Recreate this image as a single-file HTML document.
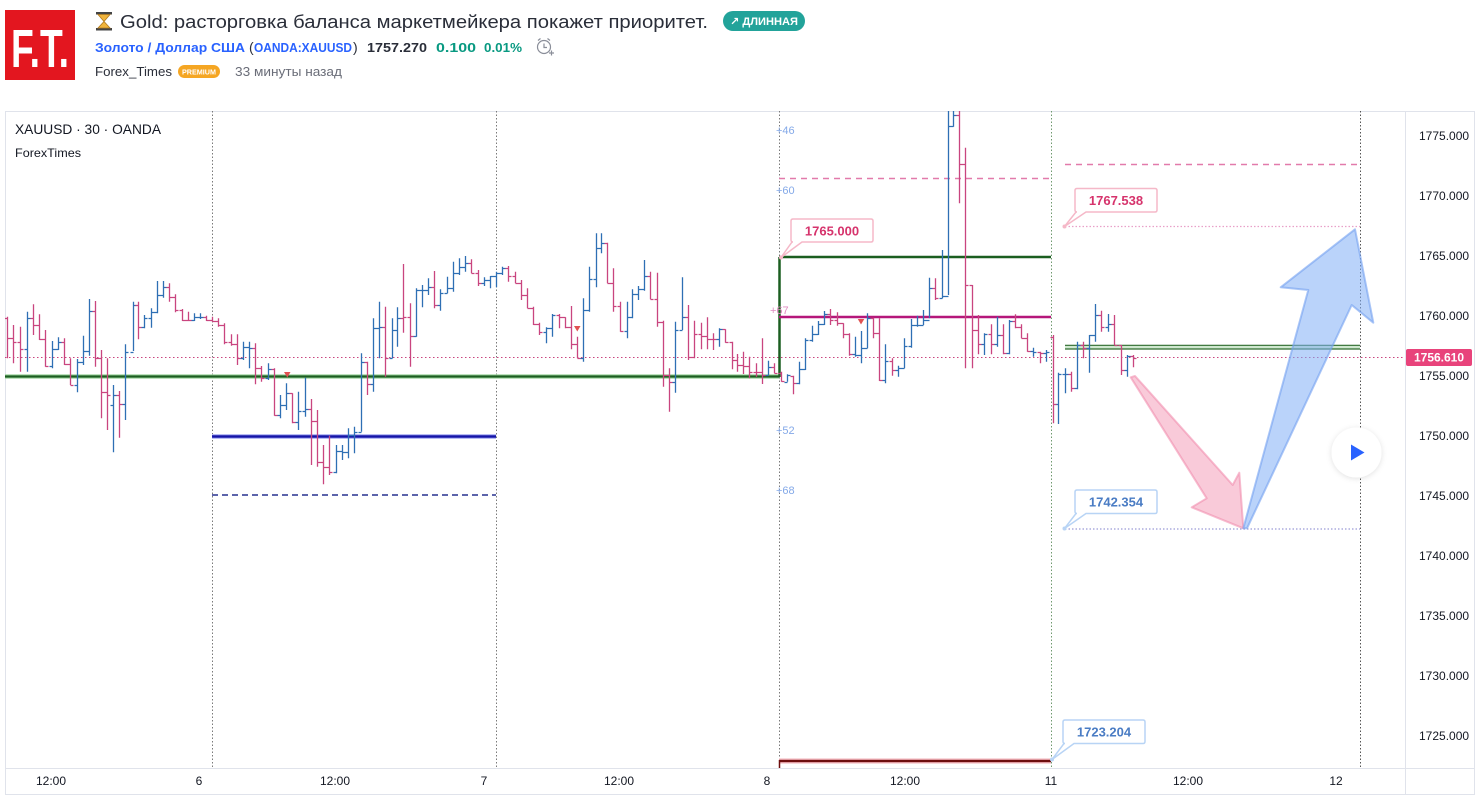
<!DOCTYPE html>
<html><head><meta charset="utf-8">
<style>
html,body{margin:0;padding:0;background:#fff;width:1480px;height:803px;overflow:hidden}
svg{display:block}
text{font-family:"Liberation Sans","DejaVu Sans",sans-serif}
</style></head>
<body>
<svg id="s" width="1480" height="803" viewBox="0 0 1480 803" xmlns="http://www.w3.org/2000/svg">
<defs>
<clipPath id="cp"><rect x="5" y="111" width="1400" height="657"/></clipPath>
<filter id="sh" x="-50%" y="-50%" width="200%" height="200%"><feDropShadow dx="0" dy="1" stdDeviation="3" flood-color="#000" flood-opacity="0.12"/></filter>
</defs>
<!-- header -->
<rect x="5" y="10" width="70" height="70" fill="#e3161f"/>
<text x="40" y="67" text-anchor="middle" fill="#fff" font-size="54" font-weight="bold" textLength="58" lengthAdjust="spacingAndGlyphs">F.T.</text>
<g>
<rect x="96" y="12" width="16" height="2.5" fill="#444"/>
<rect x="96" y="28" width="16" height="2.5" fill="#444"/>
<path d="M98 14.5 H110 L104 21.5 Z" fill="#f0b43c" stroke="#b07a20" stroke-width="0.8"/>
<path d="M98 28 H110 L104 21.5 Z" fill="#f0b43c" stroke="#b07a20" stroke-width="0.8"/>
</g>
<text x="120" y="28" font-size="18" fill="#2a2e39" textLength="588" lengthAdjust="spacingAndGlyphs">Gold: расторговка баланса маркетмейкера покажет приоритет.</text>
<rect x="723" y="11" width="82" height="20" rx="10" fill="#22a39a"/>
<text x="764" y="25" text-anchor="middle" font-size="11" font-weight="bold" fill="#fff" textLength="68" lengthAdjust="spacingAndGlyphs">↗ ДЛИННАЯ</text>
<text x="95" y="52" font-size="13" font-weight="bold" fill="#2962ff" textLength="150" lengthAdjust="spacingAndGlyphs">Золото / Доллар США</text>
<text x="249" y="52" font-size="14" fill="#2a2e39">(</text>
<text x="254" y="52" font-size="13" font-weight="bold" fill="#2962ff" textLength="98" lengthAdjust="spacingAndGlyphs">OANDA:XAUUSD</text>
<text x="353" y="52" font-size="14" fill="#2a2e39">)</text>
<text x="367" y="52" font-size="13" font-weight="bold" fill="#2a2e39" textLength="60" lengthAdjust="spacingAndGlyphs">1757.270</text>
<text x="436" y="52" font-size="13" font-weight="bold" fill="#089981" textLength="40" lengthAdjust="spacingAndGlyphs">0.100</text>
<text x="484" y="52" font-size="13" font-weight="bold" fill="#089981" textLength="38" lengthAdjust="spacingAndGlyphs">0.01%</text>
<g fill="none" stroke="#8a8e99" stroke-width="1.2">
<circle cx="544" cy="47" r="6.5"/><path d="M544 43.5V47.5H547M538 40.5l2.5-2M550 40.5l-2.5-2M549 53h5M551.5 50.5v5"/>
</g>
<text x="95" y="76" font-size="13" fill="#2a2e39" textLength="77" lengthAdjust="spacingAndGlyphs">Forex_Times</text>
<rect x="178" y="65" width="42" height="13" rx="6.5" fill="#f5a623"/>
<text x="199" y="74.5" text-anchor="middle" font-size="7" font-weight="bold" fill="#fff" textLength="34" lengthAdjust="spacingAndGlyphs">PREMIUM</text>
<text x="235" y="76" font-size="13" fill="#6a6d78" textLength="107" lengthAdjust="spacingAndGlyphs">33 минуты назад</text>

<!-- chart frame -->
<rect x="5.5" y="111.5" width="1469" height="683" fill="#fff" stroke="#e0e3eb"/>
<line x1="1405.5" y1="111" x2="1405.5" y2="795" stroke="#e0e3eb"/>
<line x1="5" y1="768.5" x2="1475" y2="768.5" stroke="#e0e3eb"/>

<g clip-path="url(#cp)" id="plot">
<!-- vertical dotted -->
<g stroke-width="1" stroke-dasharray="1.5 2">
<line x1="212.5" y1="111" x2="212.5" y2="768" stroke="#7a7a7a"/>
<line x1="496.5" y1="111" x2="496.5" y2="768" stroke="#7a7a7a"/>
<line x1="779.5" y1="111" x2="779.5" y2="768" stroke="#7a7a7a"/>
<line x1="1051.5" y1="111" x2="1051.5" y2="768" stroke="#6f9a6f"/>
<line x1="1360.5" y1="111" x2="1360.5" y2="768" stroke="#555"/>
</g>
<!-- current price dotted -->
<line x1="5" y1="357.5" x2="1405" y2="357.5" stroke="#c9457f" stroke-width="1" stroke-dasharray="1.5 2.5"/>
<!-- green level left -->
<line x1="5" y1="376.5" x2="779" y2="376.5" stroke="#a8d8a8" stroke-width="4.5"/>
<line x1="5" y1="376.5" x2="779" y2="376.5" stroke="#1b5e20" stroke-width="2.2"/>
<!-- blue level -->
<line x1="212" y1="436.5" x2="496" y2="436.5" stroke="#b8bcf5" stroke-width="5"/>
<line x1="212" y1="436.5" x2="496" y2="436.5" stroke="#1414a8" stroke-width="2.5"/>
<line x1="212" y1="495" x2="496" y2="495" stroke="#27318f" stroke-width="1.5" stroke-dasharray="6 4"/>
<!-- green box lines -->
<line x1="779.5" y1="257" x2="779.5" y2="377" stroke="#1b5e20" stroke-width="2.5"/>
<line x1="779" y1="257" x2="1051" y2="257" stroke="#1b5e20" stroke-width="2.5"/>
<line x1="779" y1="317" x2="1051" y2="317" stroke="#b5177a" stroke-width="2.5"/>
<line x1="779" y1="178.5" x2="1051" y2="178.5" stroke="#e27aab" stroke-width="1.5" stroke-dasharray="6 5"/>
<line x1="1065" y1="164.5" x2="1357" y2="164.5" stroke="#e27aab" stroke-width="1.5" stroke-dasharray="6 5"/>
<!-- maroon -->
<line x1="779" y1="761" x2="1051" y2="761" stroke="#f0b0b8" stroke-width="5"/>
<line x1="779" y1="761" x2="1051" y2="761" stroke="#6e0f0f" stroke-width="2.2"/>
<line x1="779.5" y1="760" x2="779.5" y2="768" stroke="#6e0f0f" stroke-width="1.5"/>
<!-- right levels -->
<line x1="1065" y1="226.5" x2="1360" y2="226.5" stroke="#e8a0c8" stroke-width="1.2" stroke-dasharray="1.5 2"/>
<line x1="1065" y1="529" x2="1360" y2="529" stroke="#9a9ad8" stroke-width="1.2" stroke-dasharray="1.5 2"/>
<rect x="1065" y="345" width="295" height="4" fill="#cfe8cf"/>
<line x1="1065" y1="345.3" x2="1360" y2="345.3" stroke="#2e6b2e" stroke-width="1.2"/>
<line x1="1065" y1="349" x2="1360" y2="349" stroke="#2e6b2e" stroke-width="1.2"/>
<!-- bars -->
<path id="pb" fill="none" stroke="#2e6fb4" stroke-width="1.3"/>
<path id="pp" fill="none" stroke="#c9457f" stroke-width="1.3"/>
<!-- markers -->
<g fill="#e05252">
<path d="M284 372H290.5L287.3 377.5Z"/>
<path d="M574 326H580.5L577.3 331.5Z"/>
<path d="M857.8 319H864.3L861 324.5Z"/>
</g>
<!-- small labels -->
<g font-size="11" fill="#84a9e8">
<text x="776" y="134">+46</text>
<text x="776" y="194">+60</text>
<text x="776" y="434">+52</text>
<text x="776" y="494">+68</text>
</g>
<text x="770" y="314" font-size="11" fill="#e08ac0">+67</text>
<!-- arrows -->
<path d="M1130.7 377.3 L1135 376 L1232.7 485 L1239.3 472.7 L1243.3 528.3 L1191.7 507.3 L1206.7 498.3 Z" fill="rgba(243,150,180,0.5)" stroke="rgba(240,135,170,0.55)" stroke-width="2" stroke-linejoin="round"/>
<path d="M1243.3 528.3 L1308.3 290 L1280.7 287.3 L1355 229.3 L1373.3 322.7 L1351.7 305 L1247 528.3 Z" fill="rgba(130,175,245,0.55)" stroke="rgba(115,160,240,0.6)" stroke-width="2" stroke-linejoin="round"/>
<!-- callouts -->
<g stroke-width="1.5" fill="#fff">
<path d="M793 219H871Q873 219 873 221V240Q873 242 871 242H802L781 257.5L792 242H793Q791 242 791 240V221Q791 219 793 219Z" stroke="#f5b8c8"/>
<path d="M1077 188.5H1155Q1157 188.5 1157 190.5V210Q1157 212 1155 212H1086L1064.5 226.5L1076 212H1077Q1075 212 1075 210V190.5Q1075 188.5 1077 188.5Z" stroke="#f5b8c8"/>
<path d="M1077 490H1155Q1157 490 1157 492V511.5Q1157 513.5 1155 513.5H1086L1064.5 528.5L1076 513.5H1077Q1075 513.5 1075 511.5V492Q1075 490 1077 490Z" stroke="#b8d4f5"/>
<path d="M1065 720H1143Q1145 720 1145 722V741.5Q1145 743.5 1143 743.5H1074L1052 759.5L1064 743.5H1065Q1063 743.5 1063 741.5V722Q1063 720 1065 720Z" stroke="#b8d4f5"/>
</g>
<circle cx="781" cy="257.5" r="2" fill="#f5b8c8"/>
<circle cx="1064.5" cy="226.5" r="2" fill="#f5b8c8"/>
<circle cx="1064.5" cy="528.5" r="2" fill="#b8d4f5"/>
<circle cx="1052" cy="759.5" r="2" fill="#b8d4f5"/>
<g font-size="13" font-weight="bold">
<text x="832" y="235.5" text-anchor="middle" fill="#d6336c">1765.000</text>
<text x="1116" y="205" text-anchor="middle" fill="#d6336c">1767.538</text>
<text x="1116" y="506.5" text-anchor="middle" fill="#4a7cc4">1742.354</text>
<text x="1104" y="736.5" text-anchor="middle" fill="#4a7cc4">1723.204</text>
</g>
<!-- play button -->
<circle cx="1356.5" cy="452.5" r="25" fill="#fff" filter="url(#sh)"/>
<path d="M1351 444.5 L1364.5 452.5 L1351 460.5 Z" fill="#2962ff"/>
</g>

<!-- chart titles -->
<text x="15" y="134" font-size="14" fill="#131722" textLength="146" lengthAdjust="spacingAndGlyphs">XAUUSD · 30 · OANDA</text>
<text x="15" y="157" font-size="12" fill="#131722" textLength="66" lengthAdjust="spacingAndGlyphs">ForexTimes</text>

<!-- price axis -->
<g font-size="12" fill="#131722">
<text x="1419" y="140">1775.000</text>
<text x="1419" y="200">1770.000</text>
<text x="1419" y="260">1765.000</text>
<text x="1419" y="320">1760.000</text>
<text x="1419" y="380">1755.000</text>
<text x="1419" y="440">1750.000</text>
<text x="1419" y="500">1745.000</text>
<text x="1419" y="560">1740.000</text>
<text x="1419" y="620">1735.000</text>
<text x="1419" y="680">1730.000</text>
<text x="1419" y="740">1725.000</text>
</g>
<rect x="1406" y="349" width="66" height="17" rx="2" fill="#e8437b"/>
<text x="1439" y="361.5" text-anchor="middle" font-size="12" font-weight="bold" fill="#fff">1756.610</text>

<!-- time axis -->
<g font-size="12" fill="#131722" text-anchor="middle">
<text x="51" y="785">12:00</text>
<text x="199" y="785">6</text>
<text x="335" y="785">12:00</text>
<text x="484" y="785">7</text>
<text x="619" y="785">12:00</text>
<text x="767" y="785">8</text>
<text x="905" y="785">12:00</text>
<text x="1051" y="785">11</text>
<text x="1188" y="785">12:00</text>
<text x="1336" y="785">12</text>
</g>
</svg>
<script>
(function(){
var A=[[22,635,760,640,700,'p'],[40,660,775,700,710,'p'],[60,665,800,710,732,'p'],[80,620,800,732,638,'b'],[100,598,690,638,660,'p'],[118,628,705,660,703,'p'],[136,675,785,703,783,'p'],[155,708,790,783,733,'b'],[175,697,735,733,712,'b'],[192,700,780,712,778,'p'],[211,760,840,778,840,'p'],[230,762,862,840,772,'b'],[248,692,780,772,738,'b'],[266,582,752,738,618,'b'],[286,588,785,618,758,'p'],[304,735,940,758,862,'p'],[322,760,975,862,870,'p'],[340,840,1042,900,870,'b'],[358,858,998,870,897,'p'],[376,718,945,897,740,'b'],[398,590,738,740,600,'b'],[415,590,703,600,665,'p'],[432,630,670,665,640,'b'],[452,610,668,640,622,'b'],[470,528,625,622,570,'b'],[490,528,578,570,545,'b'],[508,535,590,545,575,'p'],[526,568,622,575,615,'p'],[545,612,648,615,645,'p'],[563,620,648,645,645,'p'],[582,625,648,645,635,'b'],[600,625,642,635,635,'b'],[618,632,648,635,645,'p'],[636,635,650,645,648,'p'],[655,640,665,648,660,'p'],[673,655,718,660,712,'p'],[692,688,722,712,718,'p'],[710,688,780,718,760,'p'],[730,710,765,760,725,'b'],[748,710,790,725,728,'b'],[766,715,838,728,790,'p'],[784,783,830,790,820,'p'],[805,775,825,820,792,'b'],[822,790,932,792,930,'p'],[840,870,940,930,900,'b'],[858,835,915,900,865,'b'],[876,865,955,865,950,'p'],[895,860,975,950,918,'b'],[914,818,935,918,912,'b'],[932,882,1080,912,948,'p'],[952,915,1085,948,1072,'p'],[970,1020,1138,1072,1085,'p'],[988,992,1110,1085,1100,'p'],[1007,1020,1105,1100,1038,'b'],[1025,1020,1065,1038,1040,'b'],[1045,970,1060,1040,990,'b'],[1063,965,1045,990,980,'b'],[1082,745,980,980,770,'b'],[1100,770,870,770,838,'p'],[1118,640,860,838,668,'b'],[1137,590,760,668,665,'b'],[1155,605,815,665,760,'p'],[1175,640,760,760,675,'b']];
var B=[[52,322,440,390,354,'b'],[70,192,398,354,350,'p'],[90,310,500,352,408,'p'],[108,265,410,408,270,'b'],[127,255,322,270,270,'b'],[145,235,285,270,262,'b'],[163,213,325,262,315,'p'],[180,268,332,315,280,'b'],[200,230,280,280,265,'b'],[220,185,275,265,218,'b'],[238,175,225,218,200,'b'],[255,168,215,200,190,'b'],[272,178,220,190,218,'p'],[295,210,258,218,250,'p'],[313,232,258,250,240,'b'],[331,228,265,240,228,'b'],[349,215,262,228,218,'b'],[367,200,225,218,205,'b'],[385,198,245,205,228,'p'],[404,215,250,228,250,'p'],[423,240,300,250,285,'p'],[440,265,325,285,325,'p'],[460,320,375,325,372,'p'],[478,368,405,372,395,'p'],[497,382,430,395,385,'b'],[517,342,410,385,345,'b'],[536,342,385,345,352,'p'],[554,352,385,352,382,'p'],[572,318,448,382,432,'p'],[590,410,475,432,475,'p'],[610,295,485,475,330,'b'],[628,200,335,330,238,'b'],[647,100,262,238,145,'b'],[664,100,160,145,130,'b'],[682,128,250,130,250,'p'],[700,205,335,250,318,'p'],[720,305,395,318,393,'p'],[740,305,415,393,352,'b'],[757,268,355,352,282,'b'],[775,258,300,282,268,'b'],[793,180,272,268,228,'b'],[810,215,298,228,298,'p'],[830,218,380,298,365,'p'],[848,362,560,365,525,'p'],[868,505,635,525,545,'p'],[886,365,578,545,390,'b'],[905,232,390,390,352,'b'],[925,315,480,352,470,'p'],[943,362,475,470,402,'p'],[962,368,448,402,408,'p'],[980,352,448,408,418,'p'],[998,400,450,418,418,'p'],[1017,385,440,418,388,'b'],[1035,388,428,388,425,'p'],[1055,425,508,425,480,'p'],[1072,462,515,480,495,'p'],[1090,455,522,495,498,'p'],[1108,470,535,498,515,'p'],[1127,490,530,515,515,'p'],[1147,415,552,515,525,'p'],[1165,482,525,525,500,'b'],[1183,490,520,500,518,'p']];
var C=[[62,800,830,805,828,'p'],[80,808,830,830,810,'b'],[100,812,868,812,835,'p'],[118,770,838,835,792,'b'],[136,700,795,792,705,'b'],[155,662,710,705,688,'b'],[173,648,690,688,658,'b'],[191,618,660,658,628,'b'],[210,612,660,628,645,'p'],[230,622,662,645,655,'p'],[248,655,700,655,688,'p'],[266,685,752,688,748,'p'],[285,695,755,748,750,'b'],[303,678,775,750,728,'b'],[322,625,730,728,638,'b'],[340,638,700,638,685,'p'],[358,640,828,685,825,'p'],[376,718,835,825,768,'b'],[395,760,812,768,795,'p'],[413,782,815,795,788,'b'],[432,700,790,788,722,'b'],[452,642,728,722,660,'b'],[470,632,665,660,660,'b'],[488,615,660,660,645,'b'],[506,518,640,645,548,'b'],[525,520,585,548,578,'p'],[545,435,580,578,572,'b'],[563,10,570,572,62,'b'],[580,10,65,62,30,'b'],[598,10,295,30,178,'p'],[616,128,790,178,540,'p'],[636,540,790,540,675,'p'],[655,630,748,675,718,'p'],[673,685,750,718,688,'b'],[692,658,748,688,718,'p'],[710,635,725,718,690,'b'],[730,658,748,690,745,'p'],[748,645,748,745,648,'b'],[766,628,670,648,665,'p'],[784,658,700,665,700,'p'],[800,685,740,700,738,'p'],[820,728,755,738,740,'b'],[840,740,775,740,745,'p'],[858,735,770,745,740,'b']];
var D=[[38,165,430,170,372,'p'],[55,278,432,372,283,'b'],[74,265,340,283,283,'b'],[92,275,335,283,325,'p'],[112,185,328,325,195,'b'],[130,185,235,195,205,'p'],[148,165,278,205,165,'b'],[166,72,185,165,105,'b'],[184,92,155,105,140,'p'],[203,102,155,140,132,'b'],[222,105,195,132,195,'p'],[242,195,285,195,270,'p'],[260,225,290,270,228,'b'],[278,225,262,228,235,'p']];
var pb='',pp='';
function r(v){return Math.round(v)+0.5;}
function add(seg,ox,oy){
  for(var i=0;i<seg.length;i++){
    var d=seg[i];
    var x=Math.round(ox+d[0]/3)+0.5;
    var t=(oy+d[1]/3).toFixed(1), b=(oy+d[2]/3).toFixed(1);
    var o=r(oy+d[3]/3), c=r(oy+d[4]/3);
    var s='M'+x+' '+t+'V'+b+'M'+(x-3)+' '+o+'H'+x+'M'+x+' '+c+'H'+(x+3);
    if(d[5]=='b')pb+=s;else pp+=s;
  }
}
add(A,0,105);add(B,380,200);add(C,760,105);add(D,1040,280);
document.getElementById('pb').setAttribute('d',pb);
document.getElementById('pp').setAttribute('d',pp);
})();
</script>
</body></html>
